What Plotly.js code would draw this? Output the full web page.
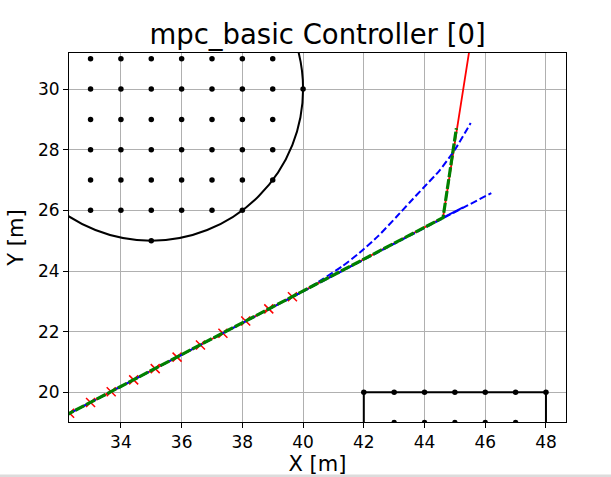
<!DOCTYPE html>
<html>
<head>
<meta charset="utf-8">
<script src="https://cdn.plot.ly/plotly-3.0.1.min.js"></script>
<style>html,body{margin:0;padding:0;background:#fff;}#chart{width:611px;height:477px;}</style>
</head>
<body>
<div id="chart"></div>
<script>
// ---- data ----
const titleText = "mpc_basic Controller [0]";
const xLabel = "X [m]";
const yLabel = "Y [m]";
const xTicks = [34, 36, 38, 40, 42, 44, 46, 48];
const yTicks = [20, 22, 24, 26, 28, 30];

// circular obstacle
const circleCenter = [35, 30];
const circleRadius = 5;
const circleDotsX = [33,34,35,36,37,38,39, 33,34,35,36,37,38,39,40, 33,34,35,36,37,38,39, 33,34,35,36,37,38,39, 33,34,35,36,37,38,39, 33,34,35,36,37,38, 35];
const circleDotsY = [31,31,31,31,31,31,31, 30,30,30,30,30,30,30,30, 29,29,29,29,29,29,29, 28,28,28,28,28,28,28, 27,27,27,27,27,27,27, 26,26,26,26,26,26, 25];

// rectangular obstacle
const rectX = [42, 42, 48, 48];
const rectY = [15, 20, 20, 15];
const rectDotsX = [42,43,44,45,46,47,48, 43,44,45,46,47];
const rectDotsY = [20,20,20,20,20,20,20, 19,19,19,19,19];

// actual path (red) and sample points (red x)
const pathX = [31.8, 32.31, 33.0, 33.68, 34.42, 35.13, 35.85, 36.62, 37.36, 38.11, 38.87, 39.65, 44.61, 45.59];
const pathY = [19.04, 19.31, 19.66, 20.02, 20.41, 20.78, 21.16, 21.56, 21.95, 22.35, 22.75, 23.15, 25.76, 32.0];
const sampleX = [32.31, 33.0, 33.68, 34.42, 35.13, 35.85, 36.62, 37.36, 38.11, 38.87, 39.65];
const sampleY = [19.31, 19.66, 20.02, 20.41, 20.78, 21.16, 21.56, 21.95, 22.35, 22.75, 23.15];

// green dashed reference
const greenX = [31.8, 44.61, 45.05];
const greenY = [19.04, 25.76, 28.71];

// blue dashed straight prediction
const blueLineX = [31.8, 46.2];
const blueLineY = [19.04, 26.57];
// blue solid short segment
const blueSolidX = [44.61, 45.27];
const blueSolidY = [25.76, 26.1];
// blue dashed curved prediction
const blueCurveX = [39.65, 40.0, 40.66, 41.31, 41.86, 42.47, 43.07, 43.51, 43.95, 44.5, 45.0, 45.52];
const blueCurveY = [23.15, 23.33, 23.74, 24.17, 24.6, 25.15, 25.78, 26.26, 26.73, 27.32, 28.0, 28.88];

const FONT = "DejaVu Sans, Liberation Sans, sans-serif";

const traces = [
  {x: rectX, y: rectY, mode: "lines", line: {color: "black", width: 2}, hoverinfo: "skip"},
  {x: circleDotsX, y: circleDotsY, mode: "markers", marker: {color: "black", size: 5.5}, hoverinfo: "skip"},
  {x: rectDotsX, y: rectDotsY, mode: "markers", marker: {color: "black", size: 5.5}, hoverinfo: "skip"},
  {x: pathX, y: pathY, mode: "lines", line: {color: "red", width: 1.8}, hoverinfo: "skip"},
  {x: sampleX, y: sampleY, mode: "markers", marker: {symbol: "x-thin", size: 9, line: {color: "red", width: 1.5}, color: "red"}, hoverinfo: "skip"},
  {x: blueLineX, y: blueLineY, mode: "lines", line: {color: "blue", width: 2, dash: "7px,3px"}, hoverinfo: "skip"},
  {x: blueCurveX, y: blueCurveY, mode: "lines", line: {color: "blue", width: 2, dash: "7px,3px", shape: "spline", smoothing: 0.6}, hoverinfo: "skip"},
  {x: blueSolidX, y: blueSolidY, mode: "lines", line: {color: "blue", width: 2}, hoverinfo: "skip"},
  {x: greenX, y: greenY, mode: "lines", line: {color: "green", width: 3.2, dash: "10px,2px"}, hoverinfo: "skip"}
];

const axisCommon = {
  showgrid: true, gridcolor: "#b0b0b0", gridwidth: 1,
  zeroline: false, showline: true, mirror: true, linecolor: "black", linewidth: 1,
  ticks: "outside", ticklen: 5, tickwidth: 1, tickcolor: "black",
  tickfont: {family: FONT, size: 17, color: "black"}
};

const layout = {
  width: 611, height: 477,
  margin: {l: 69, r: 45, t: 53, b: 55},
  paper_bgcolor: "white", plot_bgcolor: "white",
  showlegend: false,
  font: {family: FONT, color: "black"},
  title: {text: titleText, font: {family: FONT, size: 27.5, color: "black"},
          x: 0.5, xref: "paper", y: 1 - 34/477, yref: "container", yanchor: "middle"},
  xaxis: Object.assign({}, axisCommon, {
    range: [32.29, 48.66], tickmode: "array", tickvals: xTicks, ticktext: xTicks.map(String),
    title: {text: xLabel, font: {family: FONT, size: 21, color: "black"}, standoff: 2}
  }),
  yaxis: Object.assign({}, axisCommon, {
    range: [19.02, 31.19], tickmode: "array", tickvals: yTicks, ticktext: yTicks.map(String),
    title: {text: yLabel, font: {family: FONT, size: 21, color: "black"}, standoff: 8}
  }),
  shapes: [
    {type: "circle", xref: "x", yref: "y",
     x0: circleCenter[0] - circleRadius, x1: circleCenter[0] + circleRadius,
     y0: circleCenter[1] - circleRadius, y1: circleCenter[1] + circleRadius,
     line: {color: "black", width: 2}, layer: "above"},
    {type: "rect", xref: "paper", yref: "paper", x0: -69/497, x1: 542/497, y0: -55/369, y1: -52.5/369,
     fillcolor: "#dcdcdc", line: {width: 0}, layer: "above"}
  ]
};

Plotly.newPlot("chart", traces, layout, {displayModeBar: false, staticPlot: true});
</script>
</body>
</html>
